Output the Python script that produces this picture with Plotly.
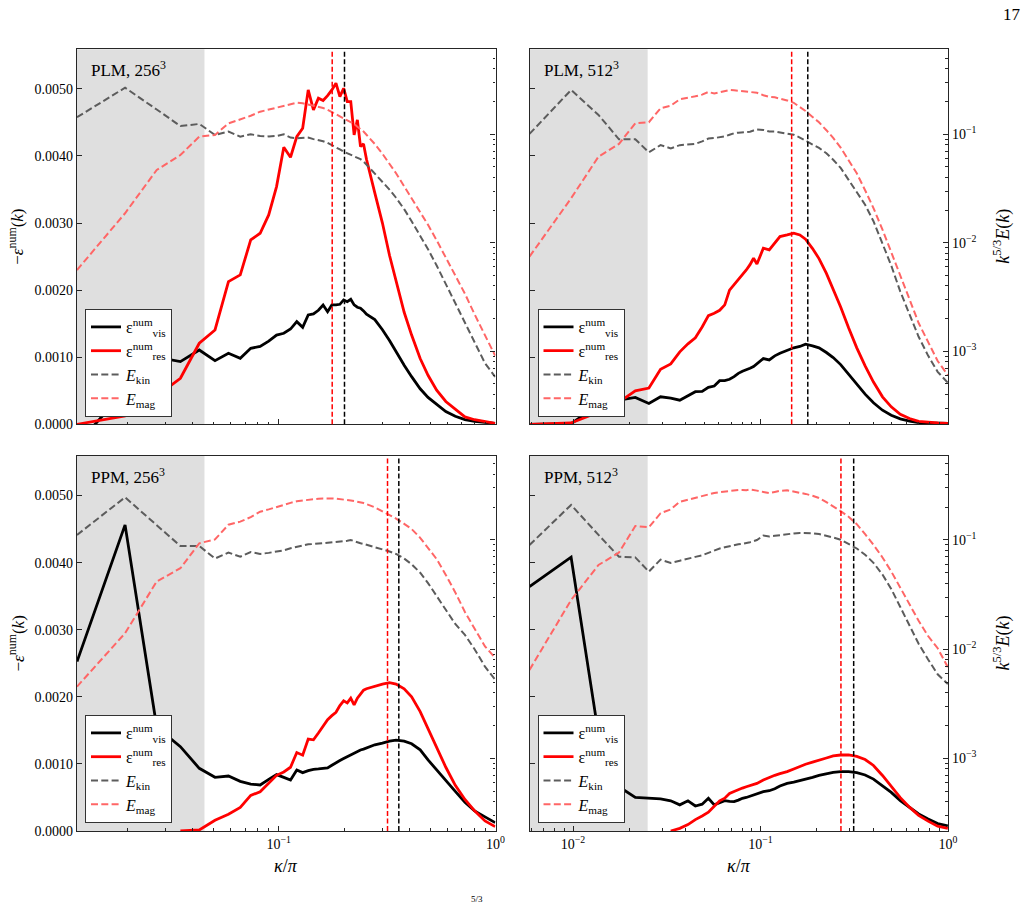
import math
import plotly.graph_objects as go

# ---------------- data ----------------
kappa_256 = [0.01172, 0.01953, 0.02734, 0.03516, 0.04297, 0.05078, 0.05859, 0.06641, 0.07422, 0.08203,
             0.08984, 0.09766, 0.10547, 0.11328, 0.12109, 0.12891, 0.13672, 0.14453, 0.15234, 0.16016,
             0.16797, 0.17578, 0.18359, 0.19141, 0.19922, 0.20703, 0.21484, 0.22266, 0.23047, 0.23828,
             0.24609, 0.25391, 0.27734, 0.30078, 0.32422, 0.34766, 0.37891, 0.41016, 0.44922, 0.48828,
             0.53516, 0.58984, 0.65234, 0.72266, 0.80078, 0.89453, 0.99609]

kappa_512 = [0.005859, 0.009766, 0.013672, 0.017578, 0.021484, 0.025391, 0.029297, 0.033203, 0.037109, 0.041016,
             0.044922, 0.048828, 0.052734, 0.056641, 0.060547, 0.064453, 0.068359, 0.072266, 0.076172, 0.080078,
             0.083984, 0.087891, 0.091797, 0.095703, 0.103516, 0.111328, 0.119141, 0.126953, 0.138672, 0.150391,
             0.162109, 0.173828, 0.189453, 0.205078, 0.224609, 0.244141, 0.267578, 0.294922, 0.326172, 0.361328,
             0.400391, 0.447266, 0.498047, 0.556641, 0.623047, 0.697266, 0.783203, 0.880859, 0.998047]

# PLM, 256^3
plm256_vis = [-0.3e-3, 0.5e-3, 1.0e-3, 0.934e-3, 1.108e-3, 0.949e-3, 1.059e-3, 0.984e-3, 1.133e-3, 1.16e-3,
              1.24e-3, 1.33e-3, 1.357e-3, 1.42e-3, 1.53e-3, 1.446e-3, 1.63e-3, 1.645e-3, 1.70e-3, 1.779e-3,
              1.679e-3, 1.779e-3, 1.78e-3, 1.789e-3, 1.854e-3, 1.828e-3, 1.864e-3, 1.78e-3, 1.745e-3, 1.730e-3,
              1.69e-3, 1.64e-3, 1.56e-3, 1.41e-3, 1.25e-3, 1.08e-3, 0.88e-3, 0.71e-3, 0.53e-3, 0.40e-3,
              0.30e-3, 0.19e-3, 0.12e-3, 0.07e-3, 0.045e-3, 0.027e-3, 0.015e-3]
plm256_res = [0.0, 0.124e-3, 0.42e-3, 0.686e-3, 1.208e-3, 1.406e-3, 2.127e-3, 2.227e-3, 2.748e-3, 2.848e-3,
              3.121e-3, 3.543e-3, 4.131e-3, 3.981e-3, 4.289e-3, 4.414e-3, 4.985e-3, 4.687e-3, 4.861e-3, 4.826e-3,
              4.90e-3, 4.985e-3, 5.085e-3, 4.885e-3, 5.010e-3, 4.811e-3, 4.811e-3, 4.314e-3, 4.538e-3, 4.140e-3,
              4.180e-3, 3.95e-3, 3.45e-3, 3.0e-3, 2.52e-3, 2.12e-3, 1.67e-3, 1.33e-3, 0.98e-3, 0.73e-3,
              0.51e-3, 0.34e-3, 0.22e-3, 0.11e-3, 0.068e-3, 0.04e-3, 0.012e-3]
plm256_kin = [0.1435, 0.2685, 0.169, 0.1191, 0.1245, 0.0986, 0.1057, 0.0951, 0.1, 0.0964,
              0.0955, 0.0964, 0.1, 0.0933, 0.0918, 0.0923, 0.0931, 0.0902, 0.0885, 0.0861,
              0.0832, 0.0796, 0.0759, 0.0724, 0.0692, 0.0668, 0.0646, 0.0624, 0.0614, 0.0589,
              0.0562, 0.0525, 0.0437, 0.0366, 0.0309, 0.0260, 0.0204, 0.0158, 0.0117, 0.00871,
              0.00617, 0.00417, 0.00282, 0.00186, 0.00120, 0.000776, 0.000582]
plm256_mag = [0.00561, 0.0187, 0.0469, 0.0644, 0.0951, 0.0986, 0.1259, 0.1374, 0.148, 0.1614,
              0.169, 0.1758, 0.184, 0.1905, 0.1954, 0.1928, 0.1884, 0.184, 0.1799, 0.1746,
              0.1679, 0.1603, 0.1531, 0.1462, 0.1406, 0.1355, 0.1303, 0.1245, 0.1175, 0.1122,
              0.1059, 0.0989, 0.0813, 0.0661, 0.0537, 0.0437, 0.0331, 0.0257, 0.0193, 0.01462,
              0.01054, 0.00733, 0.00495, 0.00339, 0.00219, 0.00141, 0.000912]

# PLM, 512^3
plm512_vis = [0.0, 0.01e-3, 0.29e-3, 0.36e-3, 0.40e-3, 0.31e-3, 0.41e-3, 0.39e-3, 0.36e-3, 0.42e-3,
              0.486e-3, 0.49e-3, 0.55e-3, 0.57e-3, 0.65e-3, 0.65e-3, 0.671e-3, 0.71e-3, 0.76e-3, 0.79e-3,
              0.81e-3, 0.835e-3, 0.86e-3, 0.90e-3, 0.98e-3, 0.96e-3, 1.02e-3, 1.059e-3, 1.10e-3, 1.14e-3,
              1.16e-3, 1.195e-3, 1.17e-3, 1.14e-3, 1.07e-3, 0.995e-3, 0.89e-3, 0.75e-3, 0.60e-3, 0.45e-3,
              0.32e-3, 0.21e-3, 0.135e-3, 0.082e-3, 0.049e-3, 0.027e-3, 0.02e-3, 0.016e-3, 0.015e-3]
plm512_res = [0.0, 0.02e-3, 0.18e-3, 0.33e-3, 0.50e-3, 0.54e-3, 0.82e-3, 0.90e-3, 1.08e-3, 1.20e-3,
              1.29e-3, 1.45e-3, 1.62e-3, 1.655e-3, 1.70e-3, 1.78e-3, 2.0e-3, 2.08e-3, 2.17e-3, 2.24e-3,
              2.30e-3, 2.38e-3, 2.475e-3, 2.39e-3, 2.624e-3, 2.60e-3, 2.70e-3, 2.798e-3, 2.823e-3, 2.85e-3,
              2.823e-3, 2.76e-3, 2.62e-3, 2.47e-3, 2.25e-3, 2.01e-3, 1.75e-3, 1.44e-3, 1.14e-3, 0.87e-3,
              0.63e-3, 0.41e-3, 0.26e-3, 0.15e-3, 0.086e-3, 0.045e-3, 0.03e-3, 0.02e-3, 0.015e-3]
plm512_kin = [0.1007, 0.2559, 0.1507, 0.0899, 0.0899, 0.0682, 0.0794, 0.0741, 0.0794, 0.0809,
              0.0815, 0.0861, 0.0912, 0.0923, 0.0938, 0.0955, 0.0989, 0.1023, 0.1035, 0.1042,
              0.1052, 0.1057, 0.1084, 0.1109, 0.1096, 0.1059, 0.1059, 0.1035, 0.1012, 0.0989,
              0.0933, 0.0867, 0.0804, 0.075, 0.0668, 0.0582, 0.049, 0.038, 0.0295, 0.0224,
              0.0158, 0.01, 0.00617, 0.00355, 0.00219, 0.00136, 0.000912, 0.000646, 0.000513]
plm512_mag = [0.00745, 0.0257, 0.0622, 0.0815, 0.1262, 0.1291, 0.1738, 0.1832, 0.2099, 0.2163,
              0.2239, 0.2317, 0.2455, 0.2371, 0.2427, 0.2512, 0.2559, 0.2541, 0.2523, 0.2512,
              0.2495, 0.2472, 0.2443, 0.2415, 0.2291, 0.2213, 0.2188, 0.2138, 0.2051, 0.195,
              0.1799, 0.1641, 0.1445, 0.1288, 0.109, 0.0925, 0.0752, 0.0583, 0.0437, 0.0305,
              0.0209, 0.0132, 0.00826, 0.00501, 0.00302, 0.00182, 0.00120, 0.000813, 0.000603]

# PPM, 256^3
ppm256_vis = [2.525e-3, 4.563e-3, 1.55e-3, 1.257e-3, 0.934e-3, 0.80e-3, 0.82e-3, 0.74e-3, 0.70e-3, 0.686e-3,
              0.77e-3, 0.84e-3, 0.80e-3, 0.761e-3, 0.91e-3, 0.87e-3, 0.90e-3, 0.92e-3, 0.925e-3, 0.93e-3,
              0.94e-3, 0.98e-3, 1.02e-3, 1.05e-3, 1.08e-3, 1.108e-3, 1.14e-3, 1.17e-3, 1.19e-3, 1.208e-3,
              1.22e-3, 1.24e-3, 1.285e-3, 1.31e-3, 1.34e-3, 1.355e-3, 1.34e-3, 1.30e-3, 1.21e-3, 1.06e-3,
              0.91e-3, 0.74e-3, 0.59e-3, 0.43e-3, 0.30e-3, 0.21e-3, 0.125e-3]
ppm256_res = [None, None, None, 0.0, 0.015e-3, 0.16e-3, 0.25e-3, 0.35e-3, 0.53e-3, 0.586e-3,
              0.71e-3, 0.83e-3, 0.88e-3, 0.95e-3, 1.17e-3, 1.13e-3, 1.37e-3, 1.36e-3, 1.46e-3, 1.56e-3,
              1.66e-3, 1.72e-3, 1.77e-3, 1.87e-3, 1.94e-3, 1.91e-3, 1.98e-3, 1.88e-3, 1.98e-3, 2.04e-3,
              2.10e-3, 2.12e-3, 2.16e-3, 2.19e-3, 2.21e-3, 2.19e-3, 2.12e-3, 2.00e-3, 1.78e-3, 1.52e-3,
              1.26e-3, 0.95e-3, 0.68e-3, 0.47e-3, 0.30e-3, 0.15e-3, 0.065e-3]
ppm256_kin = [0.1112, 0.246, 0.1365, 0.0881, 0.0881, 0.0676, 0.0766, 0.0703, 0.0776, 0.0745,
              0.0762, 0.0782, 0.0804, 0.0841, 0.0867, 0.0891, 0.0912, 0.0918, 0.0927, 0.0933,
              0.0933, 0.0944, 0.0955, 0.0959, 0.0964, 0.0983, 0.1, 0.0973, 0.0951, 0.0933,
              0.092, 0.0904, 0.0863, 0.0822, 0.0785, 0.0745, 0.0676, 0.06, 0.0501, 0.0403,
              0.0309, 0.0229, 0.0170, 0.0135, 0.0100, 0.00692, 0.00525]
ppm256_mag = [0.00454, 0.0140, 0.0417, 0.0551, 0.0933, 0.1012, 0.138, 0.1472, 0.162, 0.1816,
              0.1905, 0.2009, 0.209, 0.2188, 0.2265, 0.2307, 0.2344, 0.2371, 0.2388, 0.2399,
              0.241, 0.2399, 0.2388, 0.2371, 0.236, 0.2333, 0.2301, 0.227, 0.2244, 0.2213,
              0.2178, 0.2128, 0.1995, 0.1828, 0.1687, 0.157, 0.1406, 0.1259, 0.1047, 0.0851,
              0.0668, 0.0479, 0.0331, 0.0219, 0.0155, 0.0106, 0.00832]

# PPM, 512^3
ppm512_vis = [3.643e-3, 4.081e-3, 1.44e-3, 0.66e-3, 0.50e-3, 0.49e-3, 0.48e-3, 0.45e-3, 0.39e-3, 0.45e-3,
              0.373e-3, 0.40e-3, 0.488e-3, 0.39e-3, 0.42e-3, 0.452e-3, 0.44e-3, 0.437e-3, 0.46e-3, 0.488e-3,
              0.50e-3, 0.52e-3, 0.537e-3, 0.55e-3, 0.586e-3, 0.60e-3, 0.63e-3, 0.67e-3, 0.71e-3, 0.73e-3,
              0.75e-3, 0.77e-3, 0.80e-3, 0.83e-3, 0.854e-3, 0.874e-3, 0.884e-3, 0.884e-3, 0.869e-3, 0.835e-3,
              0.774e-3, 0.68e-3, 0.576e-3, 0.454e-3, 0.349e-3, 0.254e-3, 0.179e-3, 0.111e-3, 0.075e-3]
ppm512_res = [None, None, None, None, None, None, None, 0.0, 0.04e-3, 0.095e-3,
              0.17e-3, 0.225e-3, 0.28e-3, 0.37e-3, 0.45e-3, 0.49e-3, 0.56e-3, 0.59e-3, 0.62e-3, 0.64e-3,
              0.66e-3, 0.68e-3, 0.70e-3, 0.71e-3, 0.76e-3, 0.80e-3, 0.83e-3, 0.855e-3, 0.885e-3, 0.925e-3,
              0.965e-3, 0.995e-3, 1.026e-3, 1.06e-3, 1.088e-3, 1.119e-3, 1.133e-3, 1.133e-3, 1.113e-3, 1.065e-3,
              0.977e-3, 0.828e-3, 0.673e-3, 0.497e-3, 0.356e-3, 0.233e-3, 0.147e-3, 0.072e-3, 0.04e-3]
ppm512_kin = [0.0899, 0.2094, 0.1112, 0.0703, 0.0693, 0.0513, 0.0661, 0.0617, 0.0646, 0.0679,
              0.07, 0.0724, 0.0767, 0.0804, 0.0836, 0.0859, 0.0881, 0.0899, 0.0912, 0.0923,
              0.0933, 0.0955, 0.0977, 0.1, 0.1096, 0.1076, 0.1091, 0.1109, 0.1127, 0.1148,
              0.1161, 0.1164, 0.1153, 0.1132, 0.1096, 0.1054, 0.1005, 0.0923, 0.0836, 0.0733,
              0.0618, 0.0482, 0.0356, 0.0243, 0.0165, 0.0112, 0.00805, 0.00589, 0.00479]
ppm512_mag = [0.00646, 0.0282, 0.059, 0.0766, 0.1343, 0.1306, 0.1758, 0.1905, 0.2239, 0.2344,
              0.2443, 0.2512, 0.2612, 0.2692, 0.2742, 0.278, 0.2818, 0.2851, 0.2871, 0.2871,
              0.2851, 0.2897, 0.2871, 0.2831, 0.2754, 0.2692, 0.2754, 0.2818, 0.2851, 0.2786,
              0.2716, 0.2642, 0.2541, 0.2427, 0.2218, 0.2032, 0.1837, 0.1633, 0.1396, 0.1130,
              0.0904, 0.0692, 0.0515, 0.0366, 0.0258, 0.0182, 0.0132, 0.0102, 0.00684]

panel_labels = ["PLM, 256<sup>3</sup>", "PLM, 512<sup>3</sup>", "PPM, 256<sup>3</sup>", "PPM, 512<sup>3</sup>"]
gray_edge = [0.0454, 0.0250, 0.0454, 0.0250]     # right edge of shaded band (kappa/pi)
peak_res = [0.1764, 0.1466, 0.3175, 0.2685]      # red dashed markers
peak_vis = [0.201, 0.1787, 0.358, 0.314]         # black dashed markers

series_names = ["ε<sup>num</sup><sub>vis</sub>", "ε<sup>num</sup><sub>res</sub>",
                "<i>E</i><sub>kin</sub>", "<i>E</i><sub>mag</sub>"]

y_ticks_eps = [0.0, 0.001, 0.002, 0.003, 0.004, 0.005]
y_tick_text_eps = ["0.0000", "0.0010", "0.0020", "0.0030", "0.0040", "0.0050"]
logE_ticks = [1e-3, 1e-2, 1e-1]
logE_tick_text = ["10<sup>−3</sup>", "10<sup>−2</sup>", "10<sup>−1</sup>"]
x_ticks = [0.01, 0.1, 1.0]
x_tick_text = ["10<sup>−2</sup>", "10<sup>−1</sup>", "10<sup>0</sup>"]

# ---------------- styling / layout ----------------
W, H = 1025, 905
FONT = "Liberation Serif"
C_VIS, C_RES = "#000000", "#ff0000"
C_KIN, C_MAG = "rgb(92,92,92)", "rgb(255,102,102)"
AX = "#262626"

panels = [
    dict(kappa=kappa_256, vis=plm256_vis, res=plm256_res, kin=plm256_kin, mag=plm256_mag),
    dict(kappa=kappa_512, vis=plm512_vis, res=plm512_res, kin=plm512_kin, mag=plm512_mag),
    dict(kappa=kappa_256, vis=ppm256_vis, res=ppm256_res, kin=ppm256_kin, mag=ppm256_mag),
    dict(kappa=kappa_512, vis=ppm512_vis, res=ppm512_res, kin=ppm512_kin, mag=ppm512_mag),
]
# pixel boxes (left, right, top, bottom)
boxes = [(77, 495.5, 49.3, 424.3), (529.5, 948, 49.3, 424.3),
         (77, 495.5, 456, 831), (529.5, 948, 456, 831)]
eps_top = 0.00559
logE_range = [[-3.673, -0.217], [-3.673, -0.217], [-3.665, -0.231], [-3.665, -0.231]]
legend_pos = [(85, 417), (537.5, 417), (85, 823), (537.5, 823)]

minor_x = [m * 10 ** e for e in (-3, -2, -1) for m in range(2, 10)]
minor_y = [m * 10 ** e for e in (-4, -3, -2, -1) for m in range(2, 10)]

tickfont = dict(family=FONT, size=14, color="black")
fig = go.Figure()
layout = dict(width=W, height=H, autosize=False, margin=dict(l=0, r=0, t=0, b=0),
              paper_bgcolor="white", plot_bgcolor="white", showlegend=True,
              font=dict(family=FONT, size=14, color="black"), shapes=[], annotations=[])


def axkey(aid):
    return ("xaxis" if aid[0] == "x" else "yaxis") + aid[1:]


for i, p in enumerate(panels):
    xid = "x" if i == 0 else f"x{i + 1}"
    yl = "y" if i == 0 else f"y{2 * i + 1}"
    yr = f"y{2 * i + 2}"
    lg = "legend" if i == 0 else f"legend{i + 1}"
    L, R, T, B = boxes[i]
    xdom = [L / W, R / W]
    ydom = [1 - B / H, 1 - T / H]
    bottom_row = i >= 2
    left_col = i % 2 == 0

    layout[axkey(xid)] = dict(
        domain=xdom, anchor=yl, type="log", range=[math.log10(p["kappa"][0]), 0],
        showline=True, mirror=True, linecolor=AX, linewidth=1.3, showgrid=False, zeroline=False,
        ticks="inside", ticklen=5, tickwidth=1, tickcolor=AX,
        tickmode="array", tickvals=x_ticks, ticktext=x_tick_text, showticklabels=bottom_row,
        tickfont=tickfont, automargin=False,
        minor=dict(tickmode="array", tickvals=minor_x, ticks="inside", ticklen=2.5, tickwidth=0.8,
                   tickcolor=AX, showgrid=False))
    layout[axkey(yl)] = dict(
        domain=ydom, anchor=xid, range=[0, eps_top], showline=True, linecolor=AX, linewidth=1.3,
        showgrid=False, zeroline=False, ticks="inside", ticklen=5, tickwidth=1, tickcolor=AX,
        tickmode="array", tickvals=y_ticks_eps, ticktext=y_tick_text_eps,
        showticklabels=left_col, tickfont=tickfont, automargin=False)
    layout[axkey(yr)] = dict(
        domain=ydom, anchor=xid, overlaying=yl, side="right", type="log", range=logE_range[i],
        showline=True, linecolor=AX, linewidth=1.3, showgrid=False, zeroline=False,
        ticks="inside", ticklen=5, tickwidth=1, tickcolor=AX,
        tickmode="array", tickvals=logE_ticks, ticktext=logE_tick_text,
        showticklabels=not left_col, tickfont=tickfont, automargin=False,
        minor=dict(tickmode="array", tickvals=minor_y, ticks="inside", ticklen=2.5, tickwidth=0.8,
                   tickcolor=AX, showgrid=False))

    k = p["kappa"]
    fig.add_trace(go.Scatter(x=k, y=p["vis"], mode="lines", name=series_names[0], legend=lg,
                             line=dict(color=C_VIS, width=2.8), xaxis=xid, yaxis=yl, connectgaps=False))
    fig.add_trace(go.Scatter(x=k, y=p["res"], mode="lines", name=series_names[1], legend=lg,
                             line=dict(color=C_RES, width=2.8), xaxis=xid, yaxis=yl, connectgaps=False))
    fig.add_trace(go.Scatter(x=k, y=p["kin"], mode="lines", name=series_names[2], legend=lg,
                             line=dict(color=C_KIN, width=2, dash="7px,3.3px"), xaxis=xid, yaxis=yr))
    fig.add_trace(go.Scatter(x=k, y=p["mag"], mode="lines", name=series_names[3], legend=lg,
                             line=dict(color=C_MAG, width=2, dash="7px,3.3px"), xaxis=xid, yaxis=yr))

    # shaded band
    layout["shapes"].append(dict(type="rect", xref=xid, yref=f"{yl} domain", x0=k[0], x1=gray_edge[i],
                                 y0=0, y1=1, fillcolor="rgb(223,223,223)", line=dict(width=0), layer="below"))
    # peak markers
    layout["shapes"].append(dict(type="line", xref=xid, yref=f"{yl} domain", x0=peak_res[i], x1=peak_res[i],
                                 y0=0, y1=1, line=dict(color=C_RES, width=1.5, dash="5px,2.5px"), layer="above"))
    layout["shapes"].append(dict(type="line", xref=xid, yref=f"{yl} domain", x0=peak_vis[i], x1=peak_vis[i],
                                 y0=0, y1=1, line=dict(color=C_VIS, width=1.5, dash="5px,2.5px"), layer="above"))

    # panel label
    layout["annotations"].append(dict(text=panel_labels[i], xref="paper", yref="paper",
                                      x=(L + 12) / W, y=1 - (T + 20) / H, xanchor="left", yanchor="middle",
                                      showarrow=False, font=dict(family=FONT, size=17, color="black")))
    # legend
    lx, ly = legend_pos[i]
    layout[lg] = dict(x=lx / W, y=1 - ly / H, xanchor="left", yanchor="bottom", bgcolor="white",
                      bordercolor="#333333", borderwidth=1, font=dict(family=FONT, size=16, color="black"),
                      tracegroupgap=0, itemwidth=30, traceorder="normal")

    if left_col:
        layout["annotations"].append(dict(text="−<i>ε</i><sup>num</sup>(<i>k</i>)", xref="paper", yref="paper",
                                          x=16 / W, y=1 - ((T + B) / 2) / H, textangle=-90,
                                          xanchor="center", yanchor="middle", showarrow=False,
                                          font=dict(family=FONT, size=17, color="black")))
    else:
        layout["annotations"].append(dict(text="<i>k</i><sup>5/3</sup><i>E</i>(<i>k</i>)", xref="paper",
                                          yref="paper", x=1002 / W, y=1 - ((T + B) / 2) / H, textangle=-90,
                                          xanchor="center", yanchor="middle", showarrow=False,
                                          font=dict(family=FONT, size=18, color="black")))
    if bottom_row:
        layout["annotations"].append(dict(text="<i>κ</i>/<i>π</i>", xref="paper", yref="paper",
                                          x=((L + R) / 2) / W, y=1 - 866 / H, xanchor="center", yanchor="middle",
                                          showarrow=False, font=dict(family=FONT, size=18, color="black")))

# page number and caption fragment at the bottom edge
layout["annotations"].append(dict(text="17", xref="paper", yref="paper", x=1012 / W, y=1 - 15 / H,
                                  xanchor="center", yanchor="middle", showarrow=False,
                                  font=dict(family=FONT, size=17, color="black")))
layout["annotations"].append(dict(text="5/3", xref="paper", yref="paper", x=477 / W, y=1 - 892 / H,
                                  xanchor="center", yanchor="top", showarrow=False,
                                  font=dict(family=FONT, size=9, color="black")))

fig.update_layout(**layout)
fig.write_html("out.html")
